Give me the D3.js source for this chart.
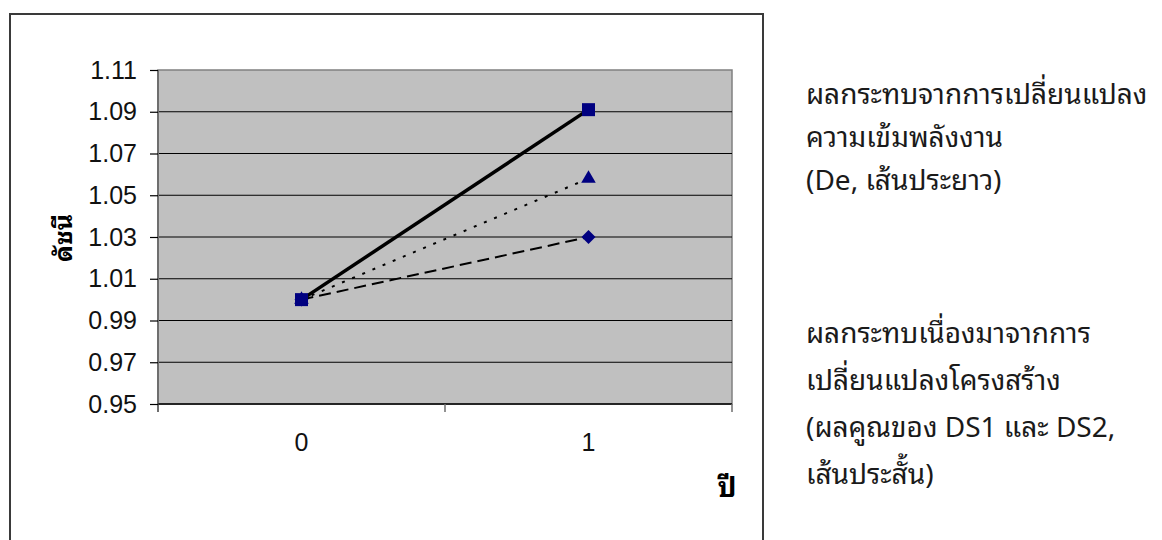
<!DOCTYPE html>
<html>
<head>
<meta charset="utf-8">
<script src="https://cdn.jsdelivr.net/npm/d3@7"></script>
<style>
  html, body { margin: 0; padding: 0; background: #ffffff; }
  svg { display: block; }
  .thai { font-family: "Noto Sans Thai Looped", "Noto Sans Thai", "Loma", "Garuda", "Tlwg Typo", "Norasi", "Noto Sans", "DejaVu Sans", sans-serif; }
  .num { font-family: "Liberation Sans", Arial, sans-serif; }
</style>
</head>
<body>
<svg id="chart" width="1162" height="540"></svg>
<script>
// Years on the x axis
const years = ["0", "1"];
// Index values for each decomposition effect
const intensityEffect = [1.000, 1.091];   // solid line, squares
const structureDS1 = [1.000, 1.058];      // dotted line, triangles
const structureDS2 = [1.000, 1.030];      // dashed line, diamonds
// Y axis tick values
const yTicks = [0.95, 0.97, 0.99, 1.01, 1.03, 1.05, 1.07, 1.09, 1.11];

const yAxisTitle = "ดัชนี";
const xAxisTitle = "ปี";
const noteTop = ["ผลกระทบจากการเปลี่ยนแปลง", "ความเข้มพลังงาน", "(De, เส้นประยาว)"];
const noteBottom = ["ผลกระทบเนื่องมาจากการ", "เปลี่ยนแปลงโครงสร้าง", "(ผลคูณของ DS1 และ DS2,", "เส้นประสั้น)"];

const svg = d3.select("#chart");

// Chart frame
svg.append("rect")
  .attr("x", 10).attr("y", 14)
  .attr("width", 753).attr("height", 560)
  .attr("fill", "none")
  .attr("stroke", "#3a3a3a")
  .attr("stroke-width", 2);

const plot = { left: 158, right: 732, top: 70, bottom: 404 };

const x = d3.scaleBand().domain(years).range([plot.left, plot.right]);
const y = d3.scaleLinear().domain([0.95, 1.11]).range([plot.bottom, plot.top]);

// Plot area background
svg.append("rect")
  .attr("x", plot.left).attr("y", plot.top)
  .attr("width", plot.right - plot.left).attr("height", plot.bottom - plot.top)
  .attr("fill", "#c0c0c0")
  .attr("stroke", "#808080")
  .attr("stroke-width", 1.5);

// Horizontal gridlines
svg.append("g")
  .selectAll("line")
  .data(yTicks.slice(0, -1))
  .join("line")
  .attr("x1", plot.left).attr("x2", plot.right)
  .attr("y1", d => y(d)).attr("y2", d => y(d))
  .attr("stroke", "#000").attr("stroke-width", 1.2);

// Y axis
const yAxis = svg.append("g")
  .attr("transform", `translate(${plot.left},0)`)
  .call(d3.axisLeft(y).tickValues(yTicks).tickFormat(d3.format(".2f")).tickSize(8).tickPadding(13));
yAxis.select(".domain").attr("stroke", "#6e6e6e").attr("stroke-width", 2)
  .attr("d", `M0,${plot.top}V${plot.bottom + 8}`);
yAxis.selectAll(".tick line").attr("stroke", "#000").attr("stroke-width", 1.2);
yAxis.selectAll(".tick text")
  .attr("class", "num")
  .attr("font-size", 25)
  .attr("fill", "#111");

// X axis: ticks sit at category boundaries
const xAxisG = svg.append("g").attr("transform", `translate(0,${plot.bottom})`);
xAxisG.append("line")
  .attr("x1", plot.left).attr("x2", plot.right)
  .attr("stroke", "#000").attr("stroke-width", 1.2);
xAxisG.selectAll("line.boundary")
  .data(years)
  .join("line")
  .attr("class", "boundary")
  .attr("x1", d => x(d) + x.bandwidth()).attr("x2", d => x(d) + x.bandwidth())
  .attr("y1", 0).attr("y2", 8)
  .attr("stroke", "#6e6e6e").attr("stroke-width", 1.5);
xAxisG.selectAll("text")
  .data(years)
  .join("text")
  .attr("class", "num")
  .attr("x", d => x(d) + x.bandwidth() / 2)
  .attr("y", 47)
  .attr("text-anchor", "middle")
  .attr("font-size", 25)
  .attr("fill", "#111")
  .text(d => d);

// Series lines and markers
const cx = (d, i) => x(years[i]) + x.bandwidth() / 2;
const line = d3.line().x(cx).y(d => y(d));

const series = [
  { values: structureDS2, width: 2, dash: "12,6", marker: d3.symbolSquare, size: 98, rotate: 45 },
  { values: structureDS1, width: 2, dash: "3,8", marker: d3.symbolTriangle, size: 92, rotate: 0 },
  { values: intensityEffect, width: 3.5, dash: null, marker: d3.symbolSquare, size: 169, rotate: 0 }
];

series.forEach(s => {
  svg.append("path")
    .datum(s.values)
    .attr("d", line)
    .attr("fill", "none")
    .attr("stroke", "#000")
    .attr("stroke-width", s.width)
    .attr("stroke-dasharray", s.dash);
});
series.forEach(s => {
  svg.append("g")
    .selectAll("path")
    .data(s.values)
    .join("path")
    .attr("transform", (d, i) => `translate(${cx(d, i)},${y(d)}) rotate(${s.rotate})`)
    .attr("d", d3.symbol().type(s.marker).size(s.size))
    .attr("fill", "#000080");
});

// Axis titles
svg.append("text")
  .attr("class", "thai")
  .attr("transform", "translate(72,238) rotate(-90)")
  .attr("text-anchor", "middle")
  .attr("font-size", 25)
  .attr("font-weight", "bold")
  .attr("fill", "#000")
  .text(yAxisTitle);

svg.append("text")
  .attr("class", "thai")
  .attr("x", 727).attr("y", 497)
  .attr("text-anchor", "middle")
  .attr("font-size", 28)
  .attr("font-weight", "bold")
  .attr("fill", "#000")
  .text(xAxisTitle);

// Explanatory notes beside the chart
const noteSize = 28;
svg.append("g")
  .selectAll("text")
  .data(noteTop)
  .join("text")
  .attr("class", "thai")
  .attr("x", 806)
  .attr("y", (d, i) => 104 + i * 43)
  .attr("font-size", noteSize)
  .attr("fill", "#1a1a1a")
  .text(d => d);

svg.append("g")
  .selectAll("text")
  .data(noteBottom)
  .join("text")
  .attr("class", "thai")
  .attr("x", 806)
  .attr("y", (d, i) => 343 + i * 47)
  .attr("font-size", noteSize)
  .attr("fill", "#1a1a1a")
  .text(d => d);
</script>
</body>
</html>
